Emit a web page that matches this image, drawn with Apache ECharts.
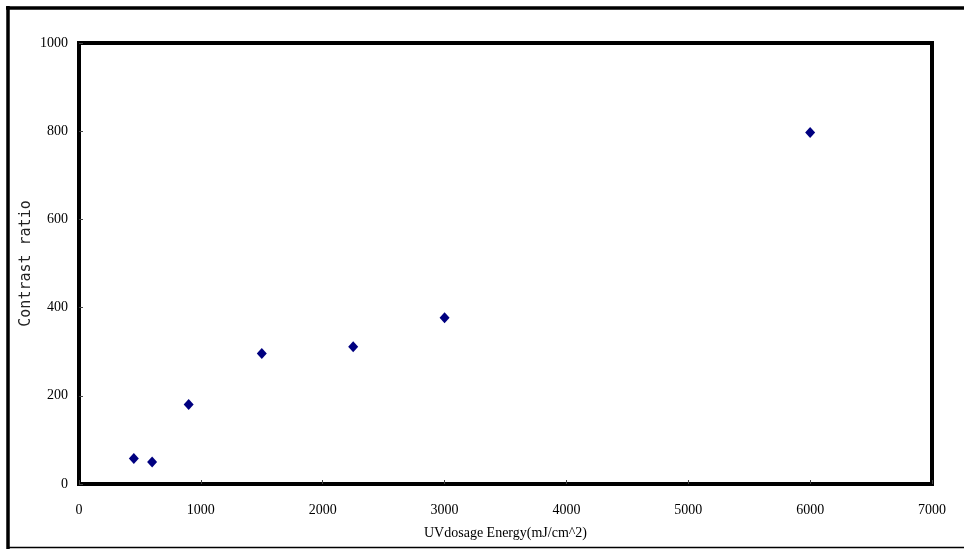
<!DOCTYPE html>
<html>
<head>
<meta charset="utf-8">
<script src="https://cdn.jsdelivr.net/npm/echarts@6/dist/echarts.min.js"></script>
<style>
  html, body { margin: 0; padding: 0; background: #fff; }
  #chart { width: 964px; height: 549px; }
</style>
</head>
<body>
<div id="chart"></div>
<script>
// UV dosage energy (mJ/cm^2) and measured contrast ratio
var uvDose = [450, 600, 900, 1500, 2250, 3000, 6000];
var contrastRatio = [58, 50, 180, 296, 311, 377, 797];

var xTicks = { min: 0, max: 7000, interval: 1000 };
var yTicks = { min: 0, max: 1000, interval: 200 };

var points = uvDose.map(function (x, i) { return [x, contrastRatio[i]]; });

var labelFont = 'Liberation Serif';
function plain(v) { return String(v); }

var chart = echarts.init(document.getElementById('chart'));
chart.setOption({
  animation: false,
  backgroundColor: '#ffffff',
  grid: {
    left: 79, right: 32, top: 43, bottom: 65,
    show: true,
    borderColor: '#000',
    borderWidth: 4,
    backgroundColor: '#fff'
  },
  graphic: [
    { type: 'line', shape: { x1: 6, y1: 8, x2: 964, y2: 8 }, style: { stroke: '#000', lineWidth: 3.5 } },
    { type: 'line', shape: { x1: 8, y1: 6, x2: 8, y2: 549 }, style: { stroke: '#000', lineWidth: 3.5 } },
    { type: 'line', shape: { x1: 8, y1: 547.5, x2: 964, y2: 547.5 }, style: { stroke: '#000', lineWidth: 1.5 } }
  ],
  xAxis: {
    type: 'value',
    min: xTicks.min, max: xTicks.max, interval: xTicks.interval,
    name: 'UVdosage Energy(mJ/cm^2)',
    nameLocation: 'middle',
    nameGap: 42,
    nameMoveOverlap: false,
    nameTextStyle: { fontFamily: labelFont, fontSize: 14, color: '#000' },
    axisLine: { show: true, lineStyle: { color: '#000', width: 4 } },
    axisTick: { show: true, inside: true, length: 4, lineStyle: { color: '#444', width: 1 } },
    axisLabel: { margin: 19, fontFamily: labelFont, fontSize: 14, color: '#000', formatter: plain },
    splitLine: { show: false }
  },
  yAxis: {
    type: 'value',
    min: yTicks.min, max: yTicks.max, interval: yTicks.interval,
    name: 'Contrast ratio',
    nameLocation: 'middle',
    nameRotate: 90,
    nameGap: 45,
    nameMoveOverlap: false,
    nameTextStyle: { fontFamily: 'DejaVu Sans Mono', fontSize: 15, color: '#222' },
    axisLine: { show: true, lineStyle: { color: '#000', width: 4 } },
    axisTick: { show: true, inside: true, length: 4, lineStyle: { color: '#444', width: 1 } },
    axisLabel: { margin: 11, fontFamily: labelFont, fontSize: 14, color: '#000', formatter: plain },
    splitLine: { show: false }
  },
  series: [{
    type: 'scatter',
    data: points,
    symbol: 'diamond',
    symbolSize: [10, 11],
    itemStyle: { color: '#000080', opacity: 1 }
  }]
});
</script>
</body>
</html>
